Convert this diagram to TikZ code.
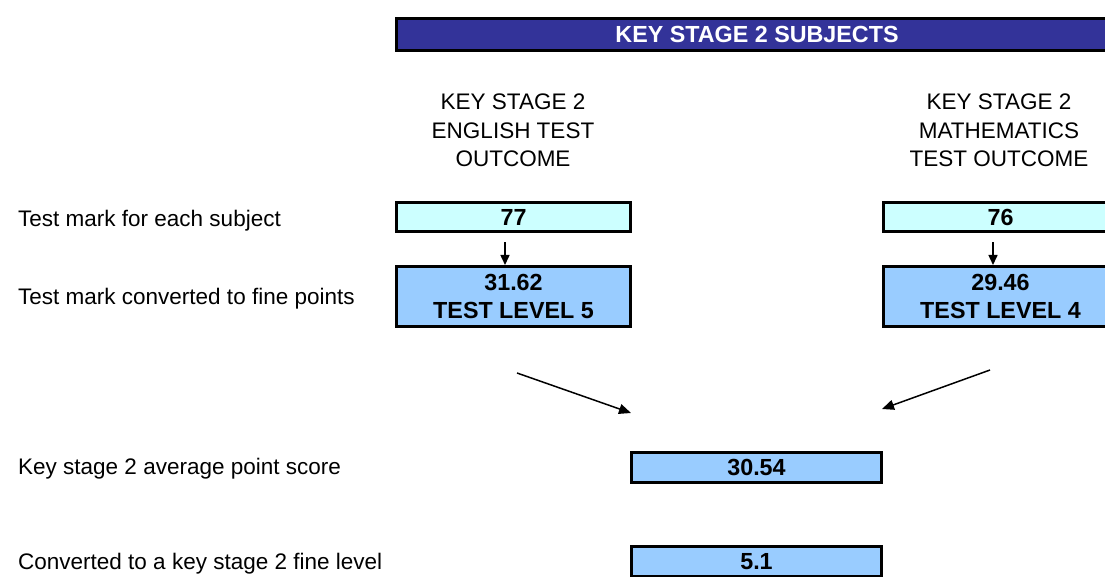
\documentclass[tikz,border=0pt]{standalone}
\usepackage{fontspec}
\setmainfont{Liberation Sans}
\usetikzlibrary{arrows.meta}
\definecolor{bannerblue}{HTML}{333399}
\definecolor{markcyan}{HTML}{CCFFFF}
\definecolor{pointblue}{HTML}{99CCFF}
\tikzset{
  txt/.style={font=\fontsize{22.5}{28.5}\selectfont, inner sep=0pt},
  boldtxt/.style={font=\fontsize{23.3}{28.5}\selectfont\bfseries, inner sep=0pt},
  markbox/.style={boldtxt, draw=black, line width=3pt, fill=markcyan, minimum width=234pt, minimum height=29pt, align=center},
  pointbox/.style={boldtxt, draw=black, line width=3pt, fill=pointblue, minimum width=234pt, minimum height=60pt, align=center},
  avgbox/.style={boldtxt, draw=black, line width=3pt, fill=pointblue, minimum width=250pt, minimum height=30pt, align=center},
  banner/.style={boldtxt, text=white, draw=black, line width=3.5pt, fill=bannerblue, minimum width=721pt, minimum height=32pt},
  rowlabel/.style={txt, anchor=west},
  colhead/.style={txt, align=center},
  conn/.style={line width=1.5pt, -{Triangle[length=12pt,width=10pt]}},
  smallconn/.style={line width=1.5pt, -{Triangle[length=10pt,width=9pt]}}
}
\begin{document}
\begin{tikzpicture}[x=1pt,y=-1pt]
\useasboundingbox (0,0) rectangle (1105,577);
\clip (0,0) rectangle (1105,577);
\fill[white] (0,0) rectangle (1105,577);

\node[banner] (ban) at (757,34.5) {KEY STAGE 2 SUBJECTS};

\node[colhead] (heng) at (513,130.5) {KEY STAGE 2\\ENGLISH TEST\\OUTCOME};
\node[colhead] (hmat) at (999,130.5) {KEY STAGE 2\\MATHEMATICS\\TEST OUTCOME};

\node[rowlabel] (l1) at (18,220.5) {Test mark for each subject};
\node[rowlabel] (l2) at (18,299) {Test mark converted to fine points};
\node[rowlabel] (l3) at (18,469) {Key stage 2 average point score};
\node[rowlabel] (l4) at (18,563.5) {Converted to a key stage 2 fine level};

\node[markbox] (e1) at (513.5,217.5) {77};
\node[pointbox] (e2) at (513.5,296.5) {31.62\\TEST LEVEL 5};
\node[markbox] (m1) at (1000.5,217.5) {76};
\node[pointbox] (m2) at (1000.5,296.5) {29.46\\TEST LEVEL 4};

\node[avgbox] (avg) at (756.5,467.5) {30.54};
\node[avgbox] (fine) at (756.5,561.5) {5.1};

\draw[smallconn, shorten <=9pt] ([xshift=-8.5pt]e1.south) -- ([xshift=-8.5pt]e2.north);
\draw[smallconn, shorten <=9pt] ([xshift=-7.5pt]m1.south) -- ([xshift=-7.5pt]m2.north);

\coordinate (la) at (517,373);
\coordinate (lb) at (631,413);
\coordinate (ra) at (990,370);
\coordinate (rb) at (882,409);
\draw[conn] (la) -- (lb);
\draw[conn] (ra) -- (rb);
\end{tikzpicture}
\end{document}
